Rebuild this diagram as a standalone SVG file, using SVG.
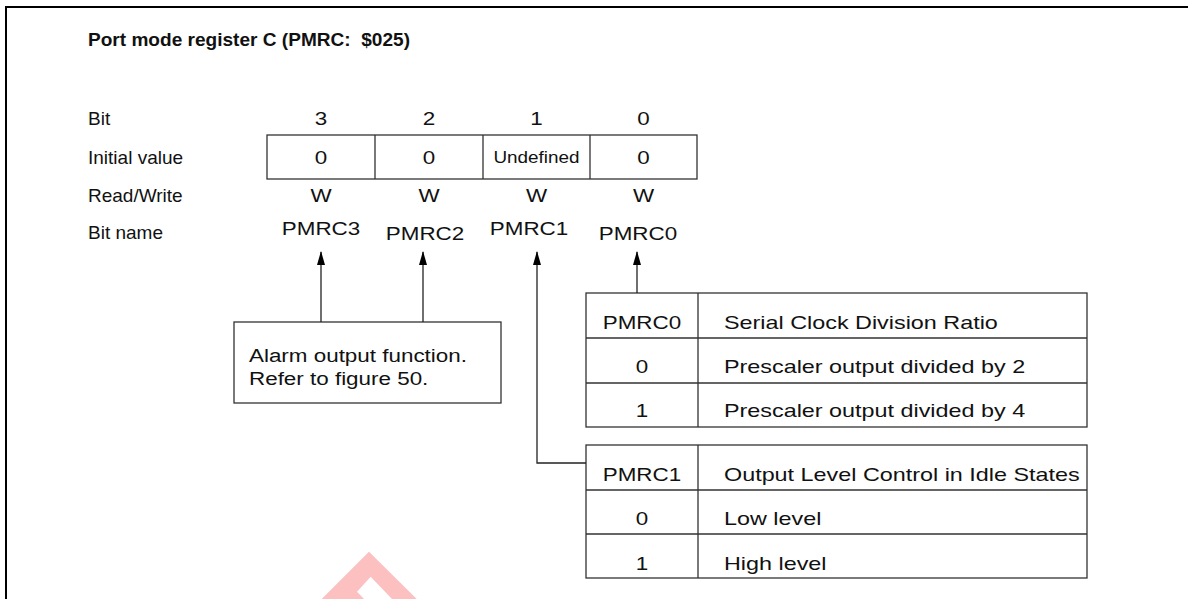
<svg xmlns="http://www.w3.org/2000/svg" width="1188" height="599" viewBox="0 0 1188 599">
<style>
text{font-family:"Liberation Sans",Arial,sans-serif;font-size:19px;fill:#111}
.t{font-weight:bold;font-size:18px;white-space:pre}
.sl{transform-box:fill-box;transform-origin:left center;transform:scaleX(1.18)}
.sc{text-anchor:middle;transform-box:fill-box;transform-origin:center;transform:scaleX(1.18)}
.tl{transform-box:fill-box;transform-origin:left center;transform:scaleX(1.23)}
.tt{transform-box:fill-box;transform-origin:left center;transform:scaleX(1.06)}
.box{fill:none;stroke:#333;stroke-width:1.3}
.ln{fill:none;stroke:#222;stroke-width:1.3}
.frame{fill:none;stroke:#000;stroke-width:2}
</style>
<defs>
<marker id="ah" markerWidth="14" markerHeight="8" refX="13" refY="4" orient="auto" markerUnits="userSpaceOnUse" viewBox="0 0 14 8">
<path d="M0,0 L14,4 L0,8 Z" fill="#000"/>
</marker>
</defs>
<rect width="1188" height="599" fill="#fff"/>
<path class="frame" d="M6,599 V7 H1188"/>
<path d="M369,551.7 L416.7,599 L392,599 L370.7,576.7 L357,591.7 L364,599 L321.7,599 Z" fill="#fcc0c0" fill-rule="evenodd"/>
<g id="title"><text class="t tt" x="88" y="46" xml:space="preserve">Port mode register C (PMRC:  $025)</text></g>
<g id="labels">
<text x="88" y="125">Bit</text>
<text x="88" y="164">Initial value</text>
<text x="88" y="202">Read/Write</text>
<text x="88" y="239">Bit name</text>
</g>
<g id="register">
<rect class="box" x="267" y="135" width="430" height="44"/>
<path class="box" d="M375,135V179M483,135V179M590,135V179"/>
<text class="sc" x="321" y="125">3</text>
<text class="sc" x="429" y="125">2</text>
<text class="sc" x="536.5" y="125">1</text>
<text class="sc" x="643.5" y="125">0</text>
<text class="sc" x="321" y="164">0</text>
<text class="sc" x="429" y="164">0</text>
<text class="sc" x="536.5" y="163" style="font-size:16px">Undefined</text>
<text class="sc" x="643.5" y="164">0</text>
<text class="sc" x="321" y="202">W</text>
<text class="sc" x="429" y="202">W</text>
<text class="sc" x="536.5" y="202">W</text>
<text class="sc" x="643.5" y="202">W</text>
<text class="sc" x="321" y="235">PMRC3</text>
<text class="sc" x="425" y="240">PMRC2</text>
<text class="sc" x="529" y="235">PMRC1</text>
<text class="sc" x="638" y="240">PMRC0</text>
</g>
<g id="alarm">
<rect class="box" x="234" y="322" width="267" height="81"/>
<text class="sl" x="249" y="362">Alarm output function.</text>
<text class="sl" x="249" y="385">Refer to figure 50.</text>
</g>
<g id="table-pmrc0">
<rect class="box" x="586" y="293" width="501" height="134"/>
<path class="box" d="M698,293V427M586,338H1087M586,383H1087"/>
<text class="sc" x="642" y="329">PMRC0</text>
<text class="tl" x="724" y="329">Serial Clock Division Ratio</text>
<text class="sc" x="642" y="373">0</text>
<text class="tl" x="724" y="373">Prescaler output divided by 2</text>
<text class="sc" x="642" y="417">1</text>
<text class="tl" x="724" y="417">Prescaler output divided by 4</text>
</g>
<g id="table-pmrc1">
<rect class="box" x="586" y="445" width="501" height="133"/>
<path class="box" d="M698,445V578M586,490H1087M586,534H1087"/>
<text class="sc" x="642" y="481">PMRC1</text>
<text class="tl" x="724" y="481">Output Level Control in Idle States</text>
<text class="sc" x="642" y="525">0</text>
<text class="tl" x="724" y="525">Low level</text>
<text class="sc" x="642" y="570">1</text>
<text class="tl" x="724" y="570">High level</text>
</g>
<g id="connectors">
<path class="ln" d="M321,322V252" marker-end="url(#ah)"/>
<path class="ln" d="M423,322V252" marker-end="url(#ah)"/>
<path class="ln" d="M586,463H537V252" marker-end="url(#ah)"/>
<path class="ln" d="M637,293V252" marker-end="url(#ah)"/>
</g>
</svg>
